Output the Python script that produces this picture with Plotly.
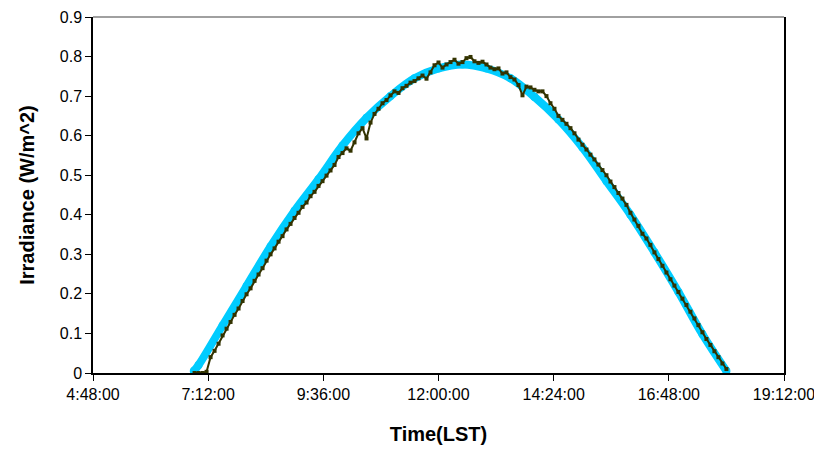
import plotly.graph_objects as go
import pandas as pd

# modelled irradiance (thick cyan curve), every 30 min from 6:54
model_times = ["06:54", "07:00", "07:30", "08:00", "08:30", "09:00", "09:30", "10:00",
               "10:30", "11:00", "11:30", "12:00", "12:30", "13:00", "13:30", "14:00",
               "14:30", "15:00", "15:30", "16:00", "16:30", "17:00", "17:30", "18:00"]
model_vals = [0.005, 0.02, 0.12, 0.22, 0.32, 0.41, 0.49, 0.575,
              0.645, 0.70, 0.745, 0.77, 0.78, 0.77, 0.745, 0.698,
              0.641, 0.57, 0.485, 0.40, 0.305, 0.205, 0.098, 0.005]

# measured irradiance, 5-minute samples from 6:55 to 18:00
measured_vals = [
    # 6:55
    0.000,
    # 7:00 - 7:55
    0.000, 0.000, 0.003, 0.040, 0.056, 0.074, 0.095, 0.112, 0.129, 0.147, 0.163, 0.182,
    # 8:00 - 8:55
    0.199, 0.214, 0.233, 0.249, 0.265, 0.284, 0.300, 0.315, 0.332, 0.346, 0.363, 0.377,
    # 9:00 - 9:55
    0.392, 0.405, 0.420, 0.431, 0.447, 0.458, 0.473, 0.485, 0.499, 0.512, 0.526, 0.546,
    # 10:00 - 10:55
    0.556, 0.568, 0.562, 0.583, 0.606, 0.619, 0.593, 0.633, 0.655, 0.668, 0.682, 0.690,
    # 11:00 - 11:55
    0.702, 0.712, 0.708, 0.720, 0.726, 0.734, 0.738, 0.745, 0.752, 0.744, 0.760, 0.778,
    # 12:00 - 12:55
    0.785, 0.772, 0.780, 0.786, 0.792, 0.782, 0.786, 0.796, 0.799, 0.788, 0.784, 0.787,
    # 13:00 - 13:55
    0.780, 0.772, 0.768, 0.770, 0.757, 0.760, 0.748, 0.742, 0.728, 0.702, 0.724, 0.722,
    # 14:00 - 14:55
    0.716, 0.712, 0.712, 0.700, 0.682, 0.668, 0.650, 0.640, 0.630, 0.619, 0.606, 0.590,
    # 15:00 - 15:55
    0.577, 0.565, 0.552, 0.540, 0.527, 0.513, 0.500, 0.484, 0.470, 0.455, 0.441, 0.425,
    # 16:00 - 16:55
    0.405, 0.388, 0.372, 0.352, 0.340, 0.324, 0.305, 0.288, 0.271, 0.254, 0.237, 0.221,
    # 17:00 - 17:55
    0.205, 0.188, 0.172, 0.155, 0.138, 0.121, 0.103, 0.086, 0.071, 0.055, 0.040, 0.024,
    # 18:00
    0.010,
]

y_ticks = [0, 0.1, 0.2, 0.3, 0.4, 0.5, 0.6, 0.7, 0.8, 0.9]
y_labels = ["0", "0.1", "0.2", "0.3", "0.4", "0.5", "0.6", "0.7", "0.8", "0.9"]

day = "2000-01-01 "
model_x = pd.to_datetime([day + t for t in model_times])
measured_x = pd.date_range(day + "06:55", periods=len(measured_vals), freq="5min")

fig = go.Figure()

fig.add_trace(go.Scatter(
    x=model_x, y=model_vals, mode="lines+markers",
    line=dict(color="#00CCFF", width=8, shape="spline"),
    marker=dict(color="#00CCFF", size=8),
    showlegend=False, hoverinfo="skip",
))

fig.add_trace(go.Scatter(
    x=measured_x, y=measured_vals, mode="lines+markers",
    line=dict(color="#333300", width=2),
    marker=dict(color="#333300", size=4, symbol="square"),
    showlegend=False,
))

# gray plot-area border on top
fig.add_shape(type="line", xref="paper", yref="paper", x0=0, x1=1, y0=1, y1=1,
              line=dict(color="#808080", width=1.5))

# page body has an 8px margin, so the figure is offset by it
fig.update_layout(
    width=814, height=442,
    margin=dict(l=85, r=38, t=9, b=77),
    paper_bgcolor="white", plot_bgcolor="white",
    font=dict(family="Liberation Sans, Arial", size=16, color="black"),
)

fig.update_xaxes(
    type="date",
    range=[day + "04:48:00", day + "19:12:00"],
    tick0=day + "04:48:00", dtick=2.4 * 3600 * 1000,
    tickformat="%-H:%M:%S",
    showgrid=False, zeroline=False, automargin=False,
    showline=True, linecolor="black", linewidth=1.5,
    ticks="outside", ticklen=6, tickcolor="black", tickwidth=1,
    title=dict(text="<b>Time(LST)</b>", font=dict(size=20), standoff=25),
)

fig.update_yaxes(
    range=[0, 0.9],
    tickvals=y_ticks, ticktext=y_labels,
    showgrid=False, zeroline=False, automargin=False,
    showline=True, linecolor="black", linewidth=1.5, mirror=True,
    ticks="outside", ticklen=6, tickcolor="black", tickwidth=1,
    title=dict(text="<b>Irradiance (W/m^2)</b>", font=dict(size=20), standoff=20),
)

fig.write_html("out.html")
